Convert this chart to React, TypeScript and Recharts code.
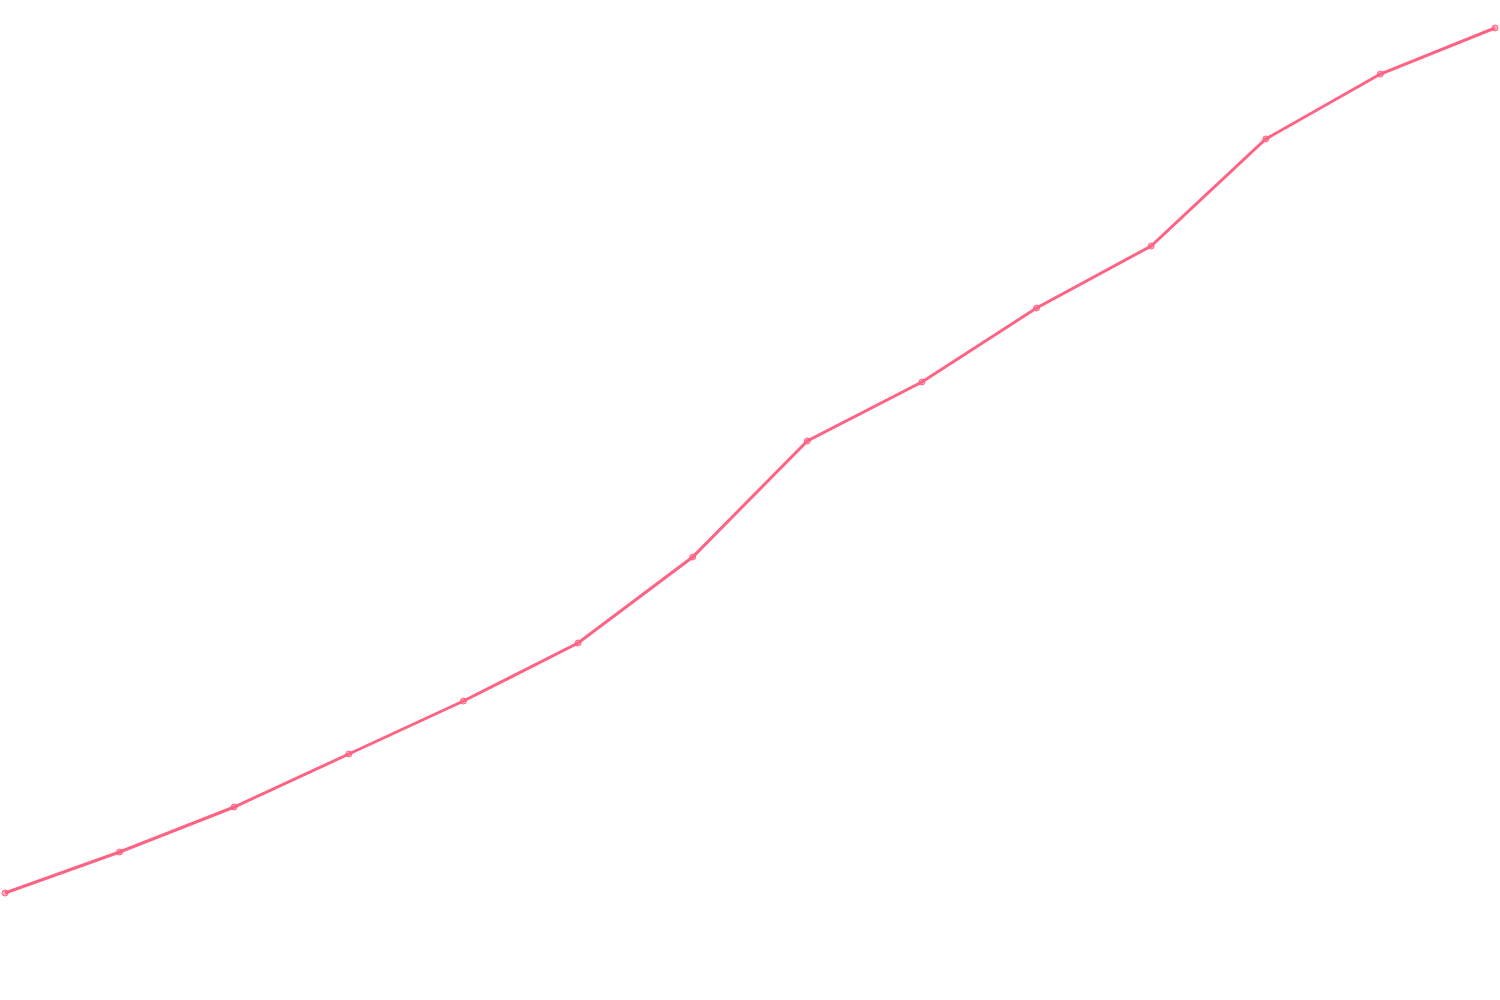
import { LineChart, Line, XAxis, YAxis } from 'recharts';

const labels = ['1', '2', '3', '4', '5', '6', '7', '8', '9', '10', '11', '12', '13', '14'];
const values = [10.7, 14.8, 19.3, 24.6, 29.9, 35.7, 44.3, 55.9, 61.8, 69.2, 75.4, 86.1, 92.6, 97.2];

const data = labels.map((label, i) => ({ label, value: values[i] }));

export default function App() {
  return (
    <div style={{ position: 'absolute', left: 0, top: 0, width: 1500, height: 1000, background: '#fff' }}>
      <LineChart width={1500} height={1000} data={data} margin={{ top: 0, right: 5, bottom: 0, left: 5 }}>
        <XAxis dataKey="label" hide />
        <YAxis domain={[0, 100]} hide />
        <Line
          type="linear"
          dataKey="value"
          stroke="#ff6384"
          strokeWidth={3}
          dot={{ r: 3, fill: 'rgba(255,99,132,0.5)', stroke: '#ff6384', strokeWidth: 1 }}
          isAnimationActive={false}
        />
      </LineChart>
    </div>
  );
}
